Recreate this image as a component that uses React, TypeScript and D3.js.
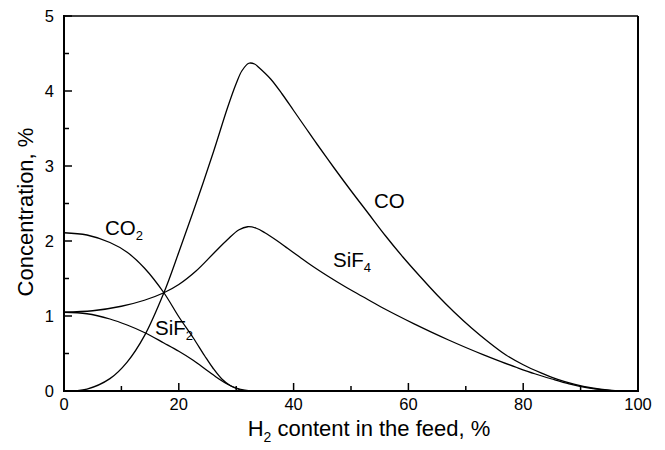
import React from "react";
import * as d3 from "d3";

const xTicks = [0, 20, 40, 60, 80, 100];
const xMinor = [10, 30, 50, 70, 90];
const yTicks = [0, 1, 2, 3, 4, 5];
const yMinor = [0.5, 1.5, 2.5, 3.5, 4.5];

const coX = [0, 4, 8, 11, 14, 17.4, 20, 23, 26, 28.5, 30, 31, 32.2, 33.2, 34, 36, 38, 40, 42, 44, 47, 50, 53, 56, 59, 62, 65, 68, 71, 74, 77, 80, 83, 86, 89, 92, 95, 97, 100];
const coY = [0, 0.026, 0.165, 0.386, 0.735, 1.31, 1.85, 2.5, 3.18, 3.78, 4.1, 4.27, 4.37, 4.36, 4.31, 4.16, 3.96, 3.74, 3.52, 3.3, 2.98, 2.67, 2.37, 2.07, 1.79, 1.53, 1.28, 1.05, 0.84, 0.65, 0.48, 0.35, 0.245, 0.155, 0.088, 0.04, 0.01, 0, 0];

const sif4X = [0, 5, 10, 14, 17.4, 20, 23, 26, 28.5, 30.5, 32, 33.5, 35, 37, 39, 41, 43, 46, 49, 52, 55, 58, 61, 64, 67, 70, 73, 76, 79, 82, 85, 88, 91, 94, 97, 100];
const sif4Y = [1.05, 1.07, 1.13, 1.21, 1.31, 1.42, 1.6, 1.83, 2.02, 2.15, 2.19, 2.17, 2.11, 2.01, 1.9, 1.79, 1.68, 1.53, 1.39, 1.26, 1.13, 1.01, 0.895, 0.785, 0.68, 0.58, 0.485, 0.395, 0.31, 0.23, 0.16, 0.095, 0.045, 0.014, 0, 0];

const co2X = [0, 4, 8, 11, 14, 17.4, 20, 22.5, 24.5, 26, 27.5, 29, 30.5, 32, 35];
const co2Y = [2.11, 2.08, 1.98, 1.85, 1.64, 1.31, 0.99, 0.71, 0.47, 0.3, 0.16, 0.07, 0.02, 0, 0];

const sif2X = [0, 4, 8, 11, 14, 17.4, 20, 22.5, 25, 27, 28.5, 30, 31.5, 33, 35];
const sif2Y = [1.05, 1.03, 0.96, 0.88, 0.78, 0.64, 0.53, 0.41, 0.27, 0.16, 0.09, 0.04, 0.01, 0, 0];

const series = [
  { xs: coX, ys: coY },
  { xs: sif4X, ys: sif4Y },
  { xs: co2X, ys: co2Y },
  { xs: sif2X, ys: sif2Y },
];

const W = 665;
const H = 450;
const left = 64;
const right = 638;
const top = 16;
const bottom = 391;

export default function App() {
  React.useEffect(() => {
    document.body.style.margin = "0";
  }, []);
  const x = d3.scaleLinear().domain([0, 100]).range([left, right]);
  const y = d3.scaleLinear().domain([0, 5]).range([bottom, top]);
  const line = d3
    .line<[number, number]>()
    .x((d) => x(d[0]))
    .y((d) => y(d[1]))
    .curve(d3.curveCatmullRom.alpha(0.5));
  const font = "'Liberation Sans', Arial, sans-serif";
  return (
    <svg width={W} height={H} style={{ display: "block", background: "#fff" }} fontFamily={font}>
      <defs>
        <clipPath id="plotclip">
          <rect x={left} y={top} width={right - left} height={bottom - top} />
        </clipPath>
      </defs>
      <rect x={0} y={0} width={W} height={H} fill="#fff" />
      <g clipPath="url(#plotclip)">
        {series.map((s, i) => (
          <path
            key={i}
            d={line(s.xs.map((v, j) => [v, s.ys[j]] as [number, number])) || ""}
            fill="none"
            stroke="#000"
            strokeWidth={1.3}
          />
        ))}
      </g>
      {/* frame */}
      <line x1={left} x2={right} y1={top} y2={top} stroke="#000" strokeWidth={1.3} />
      <line x1={right} x2={right} y1={top} y2={bottom} stroke="#000" strokeWidth={2} />
      <line x1={left} x2={left} y1={top - 1} y2={bottom + 1} stroke="#000" strokeWidth={2} />
      <line x1={left - 1} x2={right + 1} y1={bottom} y2={bottom} stroke="#000" strokeWidth={2} />
      {xTicks.map((t) => (
        <g key={"xt" + t}>
          <line x1={x(t)} x2={x(t)} y1={bottom} y2={bottom - 8} stroke="#000" strokeWidth={1.5} />
          <text x={x(t)} y={410} textAnchor="middle" fontSize={16.5}>
            {t}
          </text>
        </g>
      ))}
      {xMinor.map((t) => (
        <line key={"xm" + t} x1={x(t)} x2={x(t)} y1={bottom} y2={bottom - 5} stroke="#000" strokeWidth={1.5} />
      ))}
      {yTicks.map((t) => (
        <g key={"yt" + t}>
          <line x1={left} x2={left + 8} y1={y(t)} y2={y(t)} stroke="#000" strokeWidth={1.5} />
          <text x={54} y={y(t) + 6} textAnchor="end" fontSize={16.5}>
            {t}
          </text>
        </g>
      ))}
      {yMinor.map((t) => (
        <line key={"ym" + t} x1={left} x2={left + 5} y1={y(t)} y2={y(t)} stroke="#000" strokeWidth={1.5} />
      ))}
      {/* axis titles */}
      <text x={369} y={436} textAnchor="middle" fontSize={22}>
        H<tspan fontSize={14} dy={6}>2</tspan>
        <tspan dy={-6}> content in the feed, %</tspan>
      </text>
      <text transform={`translate(33, 212) rotate(-90)`} textAnchor="middle" fontSize={22}>
        Concentration, %
      </text>
      {/* curve labels */}
      <text x={374} y={208} fontSize={20.5}>CO</text>
      <text x={333} y={267} fontSize={20.5}>
        SiF<tspan fontSize={13} dy={5}>4</tspan>
      </text>
      <text x={105} y={235} fontSize={20.5}>
        CO<tspan fontSize={13} dy={5}>2</tspan>
      </text>
      <text x={155} y={335} fontSize={20.5}>
        SiF<tspan fontSize={13} dy={5}>2</tspan>
      </text>
    </svg>
  );
}
